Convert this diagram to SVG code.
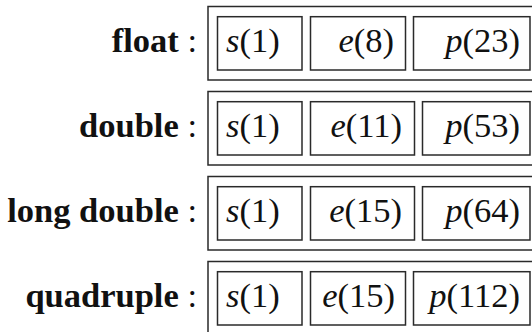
<svg xmlns="http://www.w3.org/2000/svg" width="532" height="332" viewBox="0 0 532 332">
<style>
text{font-family:'Liberation Serif','DejaVu Serif',serif;font-size:34.5px;fill:#111}
.lbl{text-anchor:end}
.b{font-weight:bold}
.i{font-style:italic}
.end{text-anchor:end}
rect{fill:none;stroke:#2a2a2a;stroke-width:1.5}
</style>
<rect width="532" height="332" style="fill:#fff;stroke:none"/>
<g id="float">
<text class="lbl" x="197" y="52"><tspan class="b">float</tspan> :</text>
<rect x="208" y="6.5" width="332" height="73.5"/>
<rect x="217.5" y="16.7" width="84.5" height="53.3"/>
<rect x="310.5" y="16.7" width="95" height="53.3"/>
<rect x="413.5" y="16.7" width="116.5" height="53.3"/>
<text x="226" y="52"><tspan class="i">s</tspan>(1)</text>
<text class="end" x="394" y="52"><tspan class="i">e</tspan>(8)</text>
<text class="end" x="520" y="52"><tspan class="i">p</tspan>(23)</text>
</g>
<g id="double">
<text class="lbl" x="197" y="137"><tspan class="b">double</tspan> :</text>
<rect x="208" y="91.5" width="332" height="73.5"/>
<rect x="217.5" y="101.7" width="84.5" height="53.3"/>
<rect x="310.5" y="101.7" width="104" height="53.3"/>
<rect x="422.5" y="101.7" width="107.5" height="53.3"/>
<text x="226" y="137"><tspan class="i">s</tspan>(1)</text>
<text class="end" x="402" y="137"><tspan class="i">e</tspan>(11)</text>
<text class="end" x="520" y="137"><tspan class="i">p</tspan>(53)</text>
</g>
<g id="long-double">
<text class="lbl" x="197" y="222"><tspan class="b">long double</tspan> :</text>
<rect x="208" y="176.5" width="332" height="73.5"/>
<rect x="217.5" y="186.7" width="84.5" height="53.3"/>
<rect x="310.5" y="186.7" width="104" height="53.3"/>
<rect x="422.5" y="186.7" width="107.5" height="53.3"/>
<text x="226" y="222"><tspan class="i">s</tspan>(1)</text>
<text class="end" x="402" y="222"><tspan class="i">e</tspan>(15)</text>
<text class="end" x="520" y="222"><tspan class="i">p</tspan>(64)</text>
</g>
<g id="quadruple">
<text class="lbl" x="197" y="307"><tspan class="b">quadruple</tspan> :</text>
<rect x="208" y="261.5" width="332" height="73.5"/>
<rect x="217.5" y="271.7" width="84.5" height="53.3"/>
<rect x="310.5" y="271.7" width="95" height="53.3"/>
<rect x="413.5" y="271.7" width="116.5" height="53.3"/>
<text x="226" y="307"><tspan class="i">s</tspan>(1)</text>
<text class="end" x="395" y="307"><tspan class="i">e</tspan>(15)</text>
<text class="end" x="520" y="307"><tspan class="i">p</tspan>(112)</text>
</g>
<g id="connectors"/>
</svg>
